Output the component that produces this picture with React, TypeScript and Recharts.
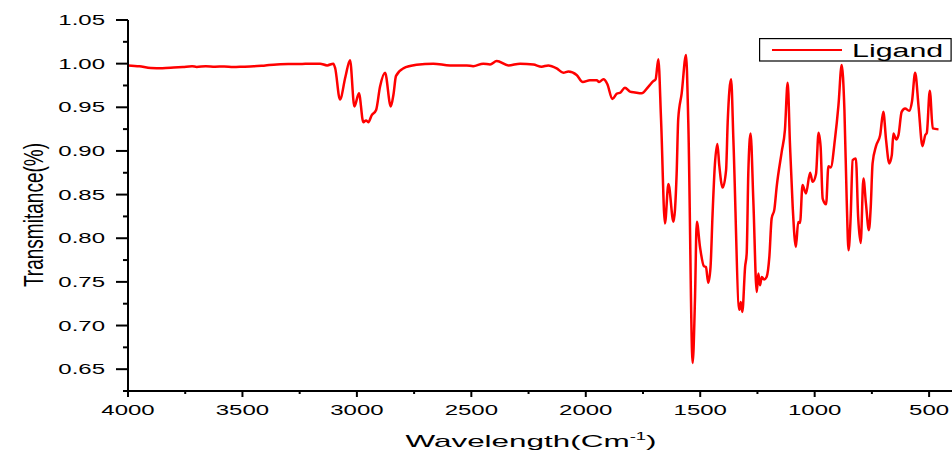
import React from 'react';
import { LineChart, Line, XAxis, YAxis, Legend } from 'recharts';

const wavenumbers = [
  4000, 3950, 3900, 3850, 3800, 3760, 3720, 3700, 3660, 3620, 3580, 3540, 3500, 3450, 3400, 3350,
  3300, 3250, 3200, 3161, 3130, 3103, 3095, 3074, 3050, 3030, 3011, 2991, 2972, 2960, 2950, 2935,
  2916, 2899, 2877, 2852, 2840, 2829, 2797, 2739, 2666, 2593, 2520, 2492, 2448, 2418, 2389, 2338,
  2287, 2229, 2193, 2164, 2127, 2098, 2076, 2040, 2013, 1982, 1952, 1942, 1923, 1906, 1884, 1865,
  1848, 1829, 1807, 1785, 1756, 1727, 1705, 1695, 1683, 1671, 1654, 1639, 1617, 1603, 1596, 1581,
  1562, 1552, 1533, 1523, 1515, 1501, 1484, 1475, 1465, 1455, 1446, 1436, 1425, 1417, 1402, 1387,
  1380, 1365, 1355, 1329, 1323, 1316, 1304, 1297, 1290, 1280, 1268, 1253, 1246, 1239, 1231, 1221,
  1210, 1198, 1188, 1176, 1166, 1144, 1130, 1118, 1108, 1096, 1082, 1072, 1064, 1053, 1038, 1020,
  1009, 994, 983, 974, 965, 950, 940, 930, 911, 896, 882, 870, 860, 852, 843, 834,
  820, 810, 799, 787, 776, 763, 755, 747, 732, 714, 700, 688, 674, 663, 656, 644,
  634, 620, 605, 587, 575, 561, 546, 529, 517, 510, 497, 484, 459,
];

const transmittance = [
  0.998, 0.997, 0.995, 0.9948, 0.9955, 0.9962, 0.997, 0.9963, 0.997, 0.9965, 0.9968, 0.9962, 0.9965, 0.997, 0.998, 0.999,
  0.9995, 0.9995, 1.0, 1.0, 0.998, 1.0, 0.995, 0.959, 0.985, 1.004, 0.951, 0.966, 0.933, 0.935, 0.933, 0.941,
  0.947, 0.9735, 0.9896, 0.951, 0.965, 0.986, 0.9946, 0.9987, 1.0, 0.998, 0.998, 0.997, 1.0, 0.999, 1.003, 0.998,
  1.0, 0.999, 0.9965, 0.998, 0.9946, 0.9896, 0.991, 0.987, 0.979, 0.981, 0.981, 0.979, 0.982, 0.9767, 0.9595, 0.9655,
  0.967, 0.9725, 0.968, 0.967, 0.966, 0.9735, 0.98, 0.982, 1.005, 0.935, 0.817, 0.862, 0.819, 0.874, 0.937, 0.966,
  1.01, 0.9315, 0.657, 0.729, 0.819, 0.79, 0.768, 0.767, 0.749, 0.767, 0.828, 0.884, 0.908, 0.884, 0.858, 0.878,
  0.933, 0.982, 0.912, 0.718, 0.727, 0.7155, 0.767, 0.7825, 0.874, 0.92, 0.8436, 0.7384, 0.7595, 0.746, 0.7556, 0.7527,
  0.7556, 0.7786, 0.8226, 0.833, 0.8589, 0.899, 0.9238, 0.978, 0.9086, 0.836, 0.79, 0.8187, 0.8175, 0.861, 0.8513, 0.875,
  0.8646, 0.874, 0.9208, 0.9047, 0.8455, 0.839, 0.8826, 0.8811, 0.9143, 0.9525, 0.9984, 0.9468, 0.8436, 0.7862, 0.8226, 0.8895,
  0.8914, 0.8244, 0.7946, 0.8685, 0.8398, 0.8092, 0.836, 0.8857, 0.9055, 0.9181, 0.9448, 0.9124, 0.8857, 0.8952, 0.92, 0.9132,
  0.9181, 0.9448, 0.9487, 0.946, 0.9563, 0.9896, 0.9506, 0.9055, 0.9181, 0.9208, 0.969, 0.9258, 0.9247,
];

const xTicks = [4000, 3750, 3500, 3250, 3000, 2750, 2500, 2250, 2000, 1750, 1500, 1250, 1000, 750, 500];
const yTicks = [0.625, 0.65, 0.675, 0.7, 0.725, 0.75, 0.775, 0.8, 0.825, 0.85, 0.875, 0.9, 0.925, 0.95, 0.975, 1.0, 1.025, 1.05];

const seriesName = 'Ligand';

const data = wavenumbers
  .map((wn, i) => ({ wn, t: transmittance[i] }))
  .sort((a, b) => a.wn - b.wn);

const FONT = '"Liberation Sans", Arial, sans-serif';

const XTick = (props: any) => {
  const { x, y, payload } = props;
  const major = payload.value % 500 === 0;
  return (
    <g>
      <line x1={x} x2={x} y1={y} y2={y + (major ? 6 : 3)} stroke="#000" strokeWidth={2} />
      {major && (
        <g transform={`translate(${x},${y + 23.5}) scale(1.6,1)`}>
          <text textAnchor="middle" fontSize={15} fontFamily={FONT} fill="#000">
            {payload.value}
          </text>
        </g>
      )}
    </g>
  );
};

const YTick = (props: any) => {
  const { x, y, payload } = props;
  const major = Math.round(payload.value * 1000) % 50 === 0;
  return (
    <g>
      <line x1={x - (major ? 12 : 5)} x2={x} y1={y} y2={y} stroke="#000" strokeWidth={2} />
      {major && (
        <g transform={`translate(${x - 23},${y + 5}) scale(1.6,1)`}>
          <text textAnchor="end" fontSize={15} fontFamily={FONT} fill="#000">
            {payload.value.toFixed(2)}
          </text>
        </g>
      )}
    </g>
  );
};

const XTitle = () => (
  <g transform="translate(531,447) scale(1.85,1)">
    <text textAnchor="middle" fontSize={17} fontFamily={FONT} fill="#000">
      Wavelength(Cm
      <tspan dy={-7} fontSize={10}>-1</tspan>
      <tspan dy={7}>)</tspan>
    </text>
  </g>
);

const YTitle = () => (
  <g transform="translate(43,215) rotate(-90) scale(0.68,1)">
    <text textAnchor="middle" fontSize={28} fontFamily={FONT} fill="#000">
      Transmitance(%)
    </text>
  </g>
);

const renderLegend = () => (
  <svg width={193} height={24} style={{ display: 'block' }}>
    <rect x={0.6} y={0.6} width={191.5} height={22.4} fill="#fff" stroke="#000" strokeWidth={1.2} />
    <line x1={13} x2={83} y1={12} y2={12} stroke="#ff0000" strokeWidth={2} />
    <g transform="translate(93,18.7) scale(1.6,1)">
      <text fontSize={19} fontFamily={FONT} fill="#000">
        {seriesName}
      </text>
    </g>
  </svg>
);

export default function App() {
  return (
    <div style={{ position: 'absolute', left: 0, top: 0, background: '#fff' }}>
      <LineChart width={952} height={454} data={data} margin={{ top: 20, right: 0, bottom: 0, left: 0 }}>
        <XAxis
          dataKey="wn"
          type="number"
          domain={[400, 4000]}
          reversed
          ticks={xTicks}
          interval={0}
          height={63}
          tickSize={0}
          tickMargin={0}
          tickLine={false}
          axisLine={{ stroke: '#000', strokeWidth: 2 }}
          tick={<XTick />}
          label={<XTitle />}
        />
        <YAxis
          type="number"
          domain={[0.625, 1.05]}
          ticks={yTicks}
          interval={0}
          width={128}
          tickSize={0}
          tickMargin={0}
          tickLine={false}
          axisLine={{ stroke: '#000', strokeWidth: 2 }}
          tick={<YTick />}
          label={<YTitle />}
          allowDataOverflow
        />
        <Legend
          layout="horizontal"
          verticalAlign="middle"
          align="center"
          content={renderLegend}
          wrapperStyle={{ left: 759, top: 38, width: 193, height: 24 }}
        />
        <Line
          type="monotone"
          dataKey="t"
          name={seriesName}
          stroke="#ff0000"
          strokeWidth={2.5}
          dot={false}
          isAnimationActive={false}
        />
      </LineChart>
    </div>
  );
}
